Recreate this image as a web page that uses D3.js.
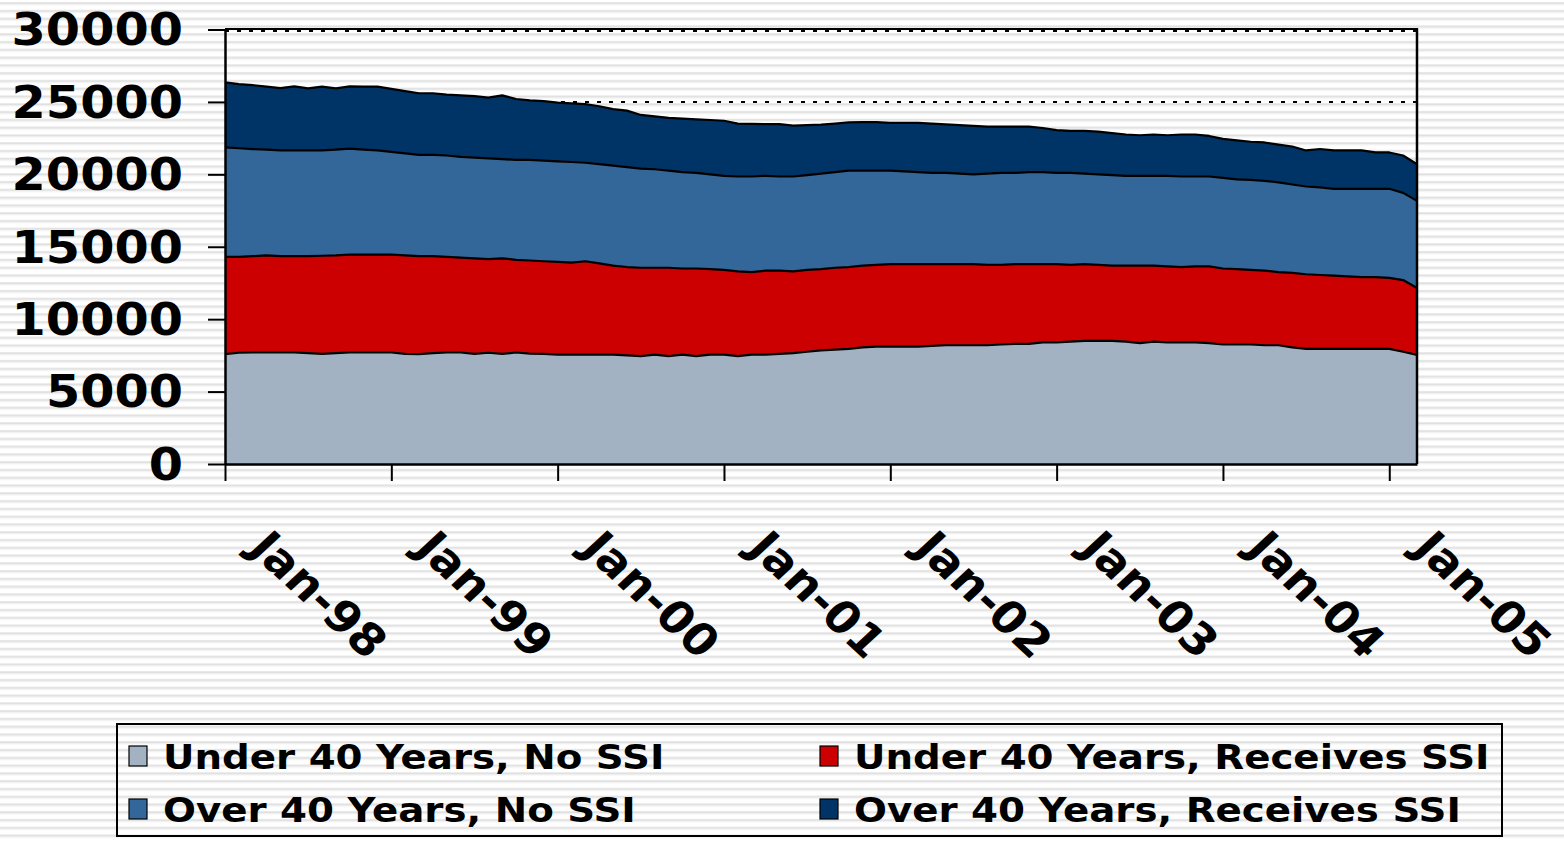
<!DOCTYPE html>
<html><head><meta charset="utf-8">
<script src="https://cdn.jsdelivr.net/npm/d3@7"></script>
<style>html,body{margin:0;padding:0;background:#fff;} svg{display:block;}</style>
</head><body><svg id="c" width="1564" height="841"></svg>
<script>
// ---- data (monthly, Jan-98 .. Mar-05) ----
const tickLabels = ["Jan-98","Jan-99","Jan-00","Jan-01","Jan-02","Jan-03","Jan-04","Jan-05"];
const tickMonths = [0,12,24,36,48,60,72,84];
const yTicks = [0,5000,10000,15000,20000,25000,30000];
const seriesNames = ["Under 40 Years, No SSI","Under 40 Years, Receives SSI","Over 40 Years, No SSI","Over 40 Years, Receives SSI"];
const seriesColors = ["#A3B2C2","#CC0000","#336699","#003366"];

const under40NoSSI = [7580,7680,7700,7700,7700,7700,7650,7600,7650,7700,7700,7700,
 7700,7600,7580,7650,7700,7700,7600,7680,7600,7700,7620,7600,
 7550,7550,7550,7550,7550,7500,7450,7550,7450,7550,7450,7550,
 7550,7450,7550,7550,7600,7650,7750,7850,7900,7950,8050,8100,
 8100,8100,8100,8150,8200,8200,8200,8200,8250,8300,8300,8400,
 8400,8450,8500,8500,8500,8450,8350,8450,8400,8400,8400,8350,
 8250,8250,8250,8200,8200,8050,7950,7950,7950,7950,7950,7950,
 7950,7750,7530];
const under40SSI = [6720,6620,6650,6700,6650,6650,6700,6780,6750,6750,6750,6750,
 6750,6800,6770,6700,6600,6550,6600,6470,6600,6400,6430,6400,
 6400,6350,6450,6300,6150,6100,6100,6000,6100,5950,6050,5900,
 5850,5850,5700,5800,5750,5650,5650,5600,5650,5650,5650,5650,
 5700,5700,5700,5650,5600,5600,5600,5550,5500,5500,5500,5400,
 5400,5300,5300,5250,5200,5250,5350,5250,5250,5200,5250,5300,
 5250,5200,5150,5150,5050,5150,5150,5100,5050,5000,4950,4950,
 4900,4950,4620];
const over40NoSSI = [7560,7500,7390,7300,7300,7300,7300,7270,7300,7320,7250,7200,
 7100,7050,7000,7000,7000,6950,6950,6950,6850,6900,6950,6950,
 6950,6950,6800,6850,6900,6900,6850,6800,6700,6650,6600,6550,
 6500,6550,6600,6550,6500,6550,6550,6600,6600,6650,6550,6500,
 6450,6400,6350,6300,6300,6250,6200,6300,6350,6300,6350,6350,
 6300,6350,6250,6250,6250,6200,6200,6200,6250,6250,6200,6200,
 6250,6200,6220,6200,6190,6100,6060,6050,6000,6050,6100,6100,
 6150,6020,6020];
const over40SSI = [4490,4430,4420,4350,4300,4420,4280,4400,4230,4300,4350,4400,
 4350,4300,4250,4250,4200,4250,4250,4200,4400,4200,4100,4100,
 4050,4050,4050,4000,3900,3900,3700,3650,3650,3700,3700,3750,
 3800,3650,3630,3570,3620,3510,3450,3380,3350,3340,3360,3350,
 3300,3350,3400,3400,3350,3350,3350,3250,3200,3200,3150,3050,
 2950,2900,2950,2950,2900,2850,2800,2850,2800,2900,2900,2800,
 2700,2700,2630,2650,2610,2620,2490,2650,2650,2650,2650,2520,
 2510,2580,2530];

const seriesValues = [under40NoSSI, under40SSI, over40NoSSI, over40SSI];
const rows = under40NoSSI.map((_, i) => {
  const r = {month: i};
  seriesNames.forEach((n, k) => r[n] = seriesValues[k][i]);
  return r;
});

// ---- layout ----
const svg = d3.select("#c");
const L = 225, R = 1417, T = 29.5, B = 464;
const x = d3.scaleLinear().domain([0, under40NoSSI.length - 1]).range([L, R]);
const y = d3.scaleLinear().domain([0, 30000]).range([B, T]);
const FONT = "'DejaVu Sans', Verdana, sans-serif";

// background stripes
const defs = svg.append("defs");
const pat = defs.append("pattern").attr("id","stripes").attr("patternUnits","userSpaceOnUse")
  .attr("width",10).attr("height",7.78);
pat.append("rect").attr("width",10).attr("height",7.78).attr("fill","#ffffff");
pat.append("rect").attr("y",2.2).attr("width",10).attr("height",2).attr("fill","#e0e0e0");
pat.append("rect").attr("y",4.2).attr("width",10).attr("height",1).attr("fill","#eeeeee");
svg.append("rect").attr("width",1564).attr("height",841).attr("fill","url(#stripes)");

// gridlines (dotted)
svg.append("g").selectAll("line").data(yTicks.filter(v => v > 0)).join("line")
  .attr("x1", L).attr("x2", R).attr("y1", d => y(d) + (d === 30000 ? 1.5 : 0)).attr("y2", d => y(d) + (d === 30000 ? 1.5 : 0))
  .attr("stroke","#000").attr("stroke-width",2).attr("stroke-dasharray","4,8");

// stacked areas
const stack = d3.stack().keys(seriesNames);
const layers = stack(rows);
const area = d3.area().x(d => x(d.data.month)).y0(d => y(d[0])).y1(d => y(d[1]));
const topLine = d3.line().x(d => x(d.data.month)).y(d => y(d[1]));
svg.append("g").selectAll("path").data(layers).join("path")
  .attr("d", area).attr("fill", (d, i) => seriesColors[i]);
svg.append("g").selectAll("path").data(layers).join("path")
  .attr("d", topLine).attr("fill","none").attr("stroke","#000").attr("stroke-width",2.2)
  .attr("stroke-linejoin","round");

// frame (top and right)
svg.append("line").attr("x1", L).attr("x2", R + 1).attr("y1", T - 0.5).attr("y2", T - 0.5).attr("stroke","#000").attr("stroke-width",2);
svg.append("line").attr("x1", R).attr("x2", R).attr("y1", T - 1).attr("y2", B).attr("stroke","#000").attr("stroke-width",2.5);

// y axis
const yAxis = svg.append("g").attr("transform", `translate(${L},0)`)
  .call(d3.axisLeft(y).tickValues(yTicks).tickSize(17).tickSizeOuter(0).tickFormat(""));
yAxis.selectAll("path.domain").attr("stroke","#000").attr("stroke-width",2.5);
yAxis.selectAll(".tick line").attr("stroke","#000").attr("stroke-width",2);
svg.append("g").selectAll("text").data(yTicks).join("text")
  .attr("transform", d => `translate(183,${y(d)}) scale(1.12,1)`)
  .attr("dy","0.36em").attr("text-anchor","end")
  .style("font-family", FONT).style("font-weight","bold").style("font-size","44px")
  .attr("fill","#000").text(d => d);

// x axis
const xAxis = svg.append("g").attr("transform", `translate(0,${B})`)
  .call(d3.axisBottom(x).tickValues(tickMonths).tickSize(17).tickSizeOuter(0).tickFormat(""));
xAxis.selectAll("path.domain").attr("stroke","#000").attr("stroke-width",2.5);
xAxis.selectAll(".tick line").attr("stroke","#000").attr("stroke-width",2);
svg.append("g").selectAll("text").data(tickMonths).join("text")
  .attr("transform", d => `translate(${x(d) + 22},550) scale(1.08,1) rotate(45)`)
  .attr("text-anchor","start")
  .style("font-family", FONT).style("font-weight","bold").style("font-size","44px")
  .attr("fill","#000").text((d, i) => tickLabels[i]);

// legend
const lg = svg.append("g");
lg.append("rect").attr("x",117).attr("y",724).attr("width",1385).attr("height",112)
  .attr("fill","none").attr("stroke","#000").attr("stroke-width",2);
const legPos = [[129,769],[820,769],[129,822],[820,822]];
seriesNames.forEach((n, i) => {
  const [lx, by] = legPos[i];
  lg.append("rect").attr("x", lx).attr("y", by - 23).attr("width",18).attr("height",20)
    .attr("fill", seriesColors[i]).attr("stroke","#000").attr("stroke-width",1.2);
  lg.append("text").attr("transform", `translate(${lx + 34},${by}) scale(1.14,1)`)
    .style("font-family", FONT).style("font-weight","bold").style("font-size","34px")
    .attr("fill","#000").text(n);
});
</script></body></html>
